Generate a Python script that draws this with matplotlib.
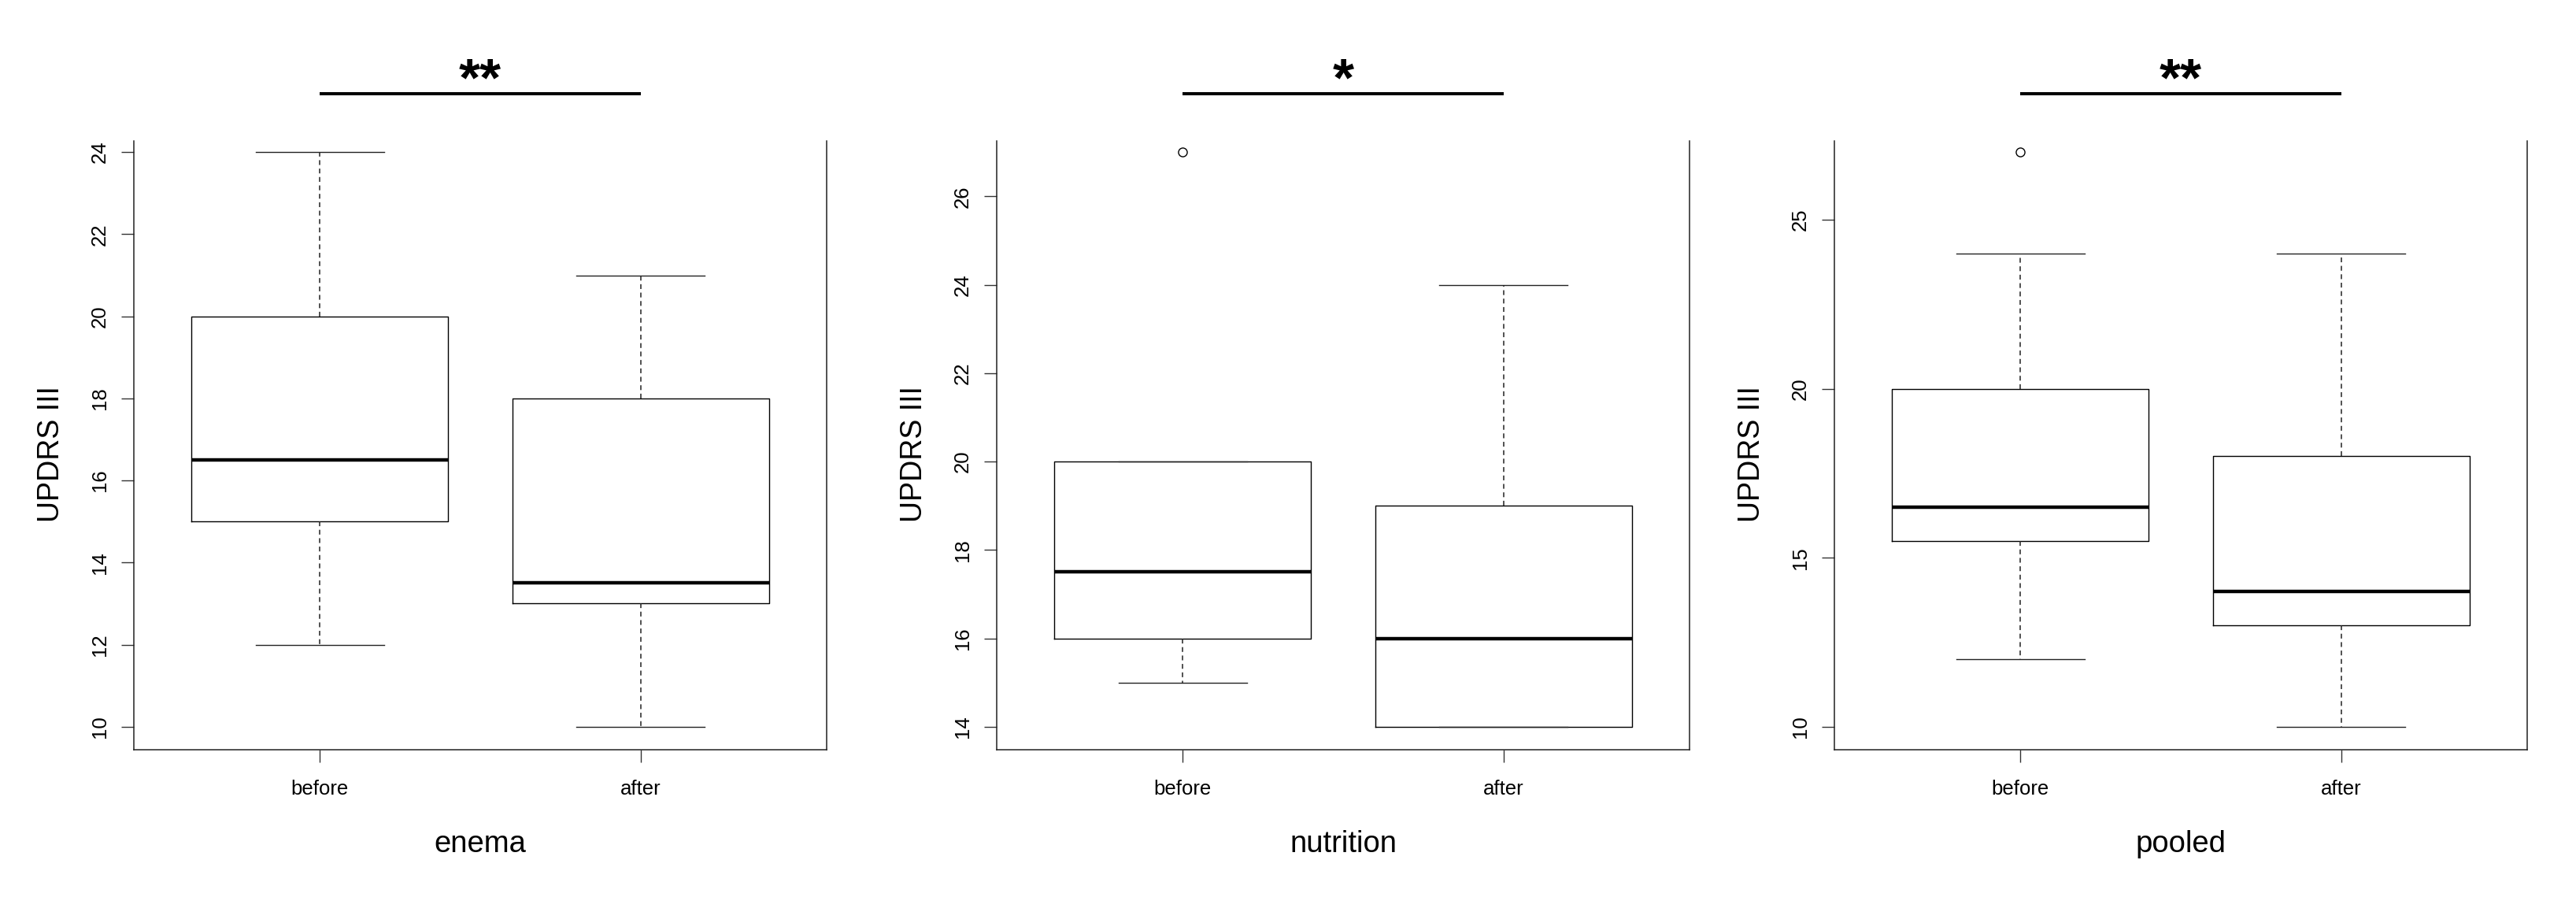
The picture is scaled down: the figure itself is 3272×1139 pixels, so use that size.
import numpy as np
import matplotlib
matplotlib.use("Agg")
import matplotlib.pyplot as plt

plt.rcParams['font.family'] = ['Liberation Sans', 'DejaVu Sans']

# data: one entry per panel, order before / after
panels = ["enema", "nutrition", "pooled"]
groups = ["before", "after"]
stars = ["**", "*", "**"]

whislo = [[12, 10], [15, 14], [12, 10]]
q1 = [[15, 13], [16, 14], [15.5, 13]]
med = [[16.5, 13.5], [17.5, 16], [16.5, 14]]
q3 = [[20, 18], [20, 19], [20, 18]]
whishi = [[24, 21], [20, 24], [24, 24]]
fliers = [[[], []], [[27], []], [[27], []]]

yticks = [[10, 12, 14, 16, 18, 20, 22, 24],
          [14, 16, 18, 20, 22, 24, 26],
          [10, 15, 20, 25]]

W, H = 3272, 1139
fig = plt.figure(figsize=(W / 100, H / 100), dpi=100)

lefts = [170, 1266, 2330]
ax_w = 880
ax_bot = 952
ax_top = 164
cut = 179  # the side lines stop here (pixels from top)

for i in range(3):
    ax = fig.add_axes([lefts[i] / W, (H - ax_bot) / H, ax_w / W, (ax_bot - ax_top) / H])

    stats = []
    for j in range(2):
        stats.append(dict(med=med[i][j], q1=q1[i][j], q3=q3[i][j],
                          whislo=whislo[i][j], whishi=whishi[i][j],
                          fliers=fliers[i][j], label=groups[j]))

    ax.bxp(stats, positions=[1, 2], widths=0.8, capwidths=0.4,
           boxprops=dict(color="black", linewidth=1.0),
           whiskerprops=dict(color="#222222", linewidth=1.1, linestyle=(0, (4, 3))),
           capprops=dict(color="#222222", linewidth=1.0),
           medianprops=dict(color="black", linewidth=3.2),
           flierprops=dict(marker="o", markersize=8, markerfacecolor="none",
                           markeredgecolor="black", markeredgewidth=1.0))

    # R style limits: 4% padding around the data range
    allv = [whislo[i][0], whislo[i][1], whishi[i][0], whishi[i][1]]
    for f in fliers[i]:
        allv += f
    lo, hi = min(allv), max(allv)
    pad = (hi - lo) * 0.04
    ax.set_ylim(lo - pad, hi + pad)
    ax.set_xlim(0.42, 2.58)

    ax.set_yticks(yticks[i])
    ax.set_yticklabels([str(t) for t in yticks[i]], rotation=90, va="center")
    ax.set_xticks([1, 2])
    ax.set_xticklabels(groups)
    ax.tick_params(axis="both", length=11.5, width=1.0, labelsize=18.5, color="#333333")
    ax.tick_params(axis="x", pad=16)
    ax.tick_params(axis="y", pad=11)

    ax.spines["top"].set_visible(False)
    y0, y1 = ax.get_ylim()
    ycut = y1 - (y1 - y0) * (cut - ax_top) / (ax_bot - ax_top)
    for s in ["left", "right", "bottom"]:
        ax.spines[s].set_linewidth(1.1)
        ax.spines[s].set_color("#222222")
    ax.spines["left"].set_bounds(y0, ycut)
    ax.spines["right"].set_bounds(y0, ycut)

    ax.text(-0.119, 0.476, "UPDRS III", rotation=90, ha="center", va="center",
            fontsize=27, transform=ax.transAxes)
    ax.text(0.5, -0.152, panels[i], ha="center", va="center",
            fontsize=27.5, transform=ax.transAxes)

    # significance bar above the panel
    tr = ax.get_xaxis_transform()
    ax.plot([1, 2], [1.0571, 1.0571], color="black", linewidth=2.9,
            transform=tr, clip_on=False, solid_capstyle="butt")
    ax.text(1.5, 1.0545, stars[i], ha="center", va="baseline", fontsize=50,
            fontweight="bold", transform=tr)

fig.savefig("out.png", dpi=100, facecolor="white")
